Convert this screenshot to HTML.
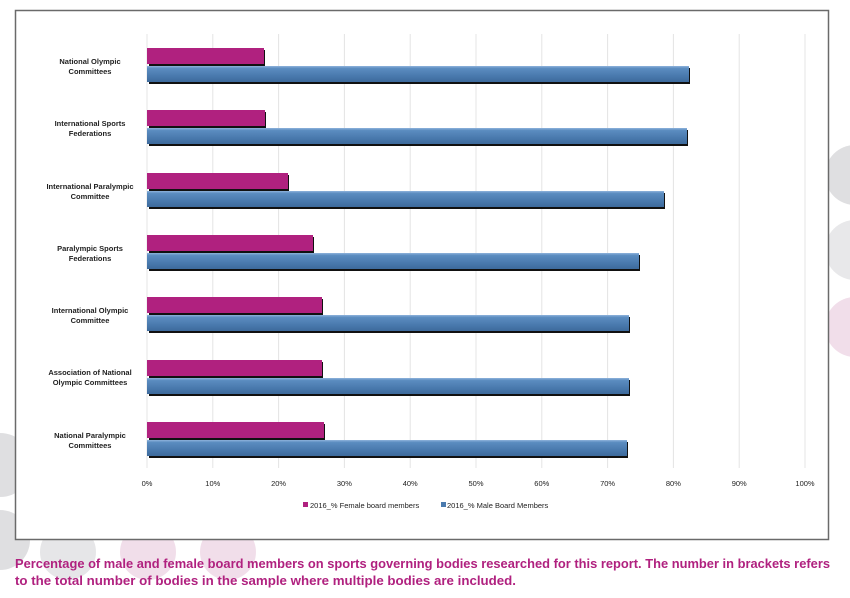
<!DOCTYPE html>
<html><head><meta charset="utf-8"><style>html,body{margin:0;padding:0;background:#fff}svg{display:block}</style></head>
<body>
<svg width="850" height="598" viewBox="0 0 850 598" xmlns="http://www.w3.org/2000/svg" font-family="Liberation Sans, sans-serif">
<defs>
<linearGradient id="bl" x1="0" y1="0" x2="0" y2="1"><stop offset="0" stop-color="#8fb3dc"/><stop offset="0.15" stop-color="#5b8cc0"/><stop offset="0.6" stop-color="#4a7aae"/><stop offset="1" stop-color="#3d6a9c"/></linearGradient>
</defs>
<rect width="850" height="598" fill="#fff"/>
<g opacity="0.9">
<circle cx="855" cy="175" r="30" fill="#dcdcde"/>
<circle cx="855" cy="250" r="30" fill="#e6e6e8"/>
<circle cx="855" cy="327" r="30" fill="#f0dbe8"/>
<circle cx="0" cy="465" r="32" fill="#dcdcde"/>
<circle cx="0" cy="540" r="30" fill="#dcdcde"/>
<circle cx="68" cy="552" r="28" fill="#e4e4e6"/>
<circle cx="148" cy="552" r="28" fill="#f0dbe8"/>
<circle cx="228" cy="552" r="28" fill="#f0dbe8"/>
</g>
<rect x="15.5" y="10.5" width="813" height="529" fill="#fff" stroke="#6a6a6a" stroke-width="1.5"/>
<g stroke="#e4e4e4" stroke-width="1">
<line x1="147" y1="34" x2="147" y2="468"/><line x1="212.8" y1="34" x2="212.8" y2="468"/><line x1="278.6" y1="34" x2="278.6" y2="468"/><line x1="344.4" y1="34" x2="344.4" y2="468"/><line x1="410.2" y1="34" x2="410.2" y2="468"/><line x1="476" y1="34" x2="476" y2="468"/><line x1="541.8" y1="34" x2="541.8" y2="468"/><line x1="607.6" y1="34" x2="607.6" y2="468"/><line x1="673.4" y1="34" x2="673.4" y2="468"/><line x1="739.2" y1="34" x2="739.2" y2="468"/><line x1="805" y1="34" x2="805" y2="468"/>
</g>
<g font-size="7.5" fill="#222" text-anchor="middle">
<text x="147" y="486">0%</text><text x="212.8" y="486">10%</text><text x="278.6" y="486">20%</text><text x="344.4" y="486">30%</text><text x="410.2" y="486">40%</text><text x="476" y="486">50%</text><text x="541.8" y="486">60%</text><text x="607.6" y="486">70%</text><text x="673.4" y="486">80%</text><text x="739.2" y="486">90%</text><text x="805" y="486">100%</text>
</g>
<g id="bars">
<!-- row template: female y, male y -->
<g><rect x="149" y="50" width="116" height="16" fill="#111"/><rect x="147" y="48" width="117" height="16" fill="#b0217f"/><rect x="149" y="68" width="541" height="16" fill="#111"/><rect x="147" y="66" width="542" height="16" fill="url(#bl)"/></g>
<g><rect x="149" y="112" width="117" height="16" fill="#111"/><rect x="147" y="110" width="118" height="16" fill="#b0217f"/><rect x="149" y="130" width="539" height="16" fill="#111"/><rect x="147" y="128" width="540" height="16" fill="url(#bl)"/></g>
<g><rect x="149" y="175" width="140" height="16" fill="#111"/><rect x="147" y="173" width="141" height="16" fill="#b0217f"/><rect x="149" y="193" width="516" height="16" fill="#111"/><rect x="147" y="191" width="517" height="16" fill="url(#bl)"/></g>
<g><rect x="149" y="237" width="165" height="16" fill="#111"/><rect x="147" y="235" width="166" height="16" fill="#b0217f"/><rect x="149" y="255" width="491" height="16" fill="#111"/><rect x="147" y="253" width="492" height="16" fill="url(#bl)"/></g>
<g><rect x="149" y="299" width="174" height="16" fill="#111"/><rect x="147" y="297" width="175" height="16" fill="#b0217f"/><rect x="149" y="317" width="481" height="16" fill="#111"/><rect x="147" y="315" width="482" height="16" fill="url(#bl)"/></g>
<g><rect x="149" y="362" width="174" height="16" fill="#111"/><rect x="147" y="360" width="175" height="16" fill="#b0217f"/><rect x="149" y="380" width="481" height="16" fill="#111"/><rect x="147" y="378" width="482" height="16" fill="url(#bl)"/></g>
<g><rect x="149" y="424" width="176" height="16" fill="#111"/><rect x="147" y="422" width="177" height="16" fill="#b0217f"/><rect x="149" y="442" width="479" height="16" fill="#111"/><rect x="147" y="440" width="480" height="16" fill="url(#bl)"/></g>
</g>
<g font-size="7.5" font-weight="bold" fill="#222" text-anchor="middle">
<text x="90" y="64">National Olympic</text><text x="90" y="74">Committees</text>
<text x="90" y="126">International Sports</text><text x="90" y="136">Federations</text>
<text x="90" y="189">International Paralympic</text><text x="90" y="199">Committee</text>
<text x="90" y="251">Paralympic Sports</text><text x="90" y="261">Federations</text>
<text x="90" y="313">International Olympic</text><text x="90" y="323">Committee</text>
<text x="90" y="375">Association of National</text><text x="90" y="385">Olympic Committees</text>
<text x="90" y="438">National Paralympic</text><text x="90" y="448">Committees</text>
</g>
<rect x="303" y="502" width="5" height="5" fill="#b0217f"/>
<text x="310" y="508" font-size="7.5" fill="#222">2016_% Female board members</text>
<rect x="441" y="502" width="5" height="5" fill="#4a7aae"/>
<text x="447" y="508" font-size="7.5" fill="#222">2016_% Male Board Members</text>
<g font-size="13" font-weight="bold" fill="#b0217f">
<text x="15" y="568" textLength="815" lengthAdjust="spacingAndGlyphs">Percentage of male and female board members on sports governing bodies researched for this report. The number in brackets refers</text>
<text x="15" y="585" textLength="501" lengthAdjust="spacingAndGlyphs">to the total number of bodies in the sample where multiple bodies are included.</text>
</g>
</svg>
</body></html>
